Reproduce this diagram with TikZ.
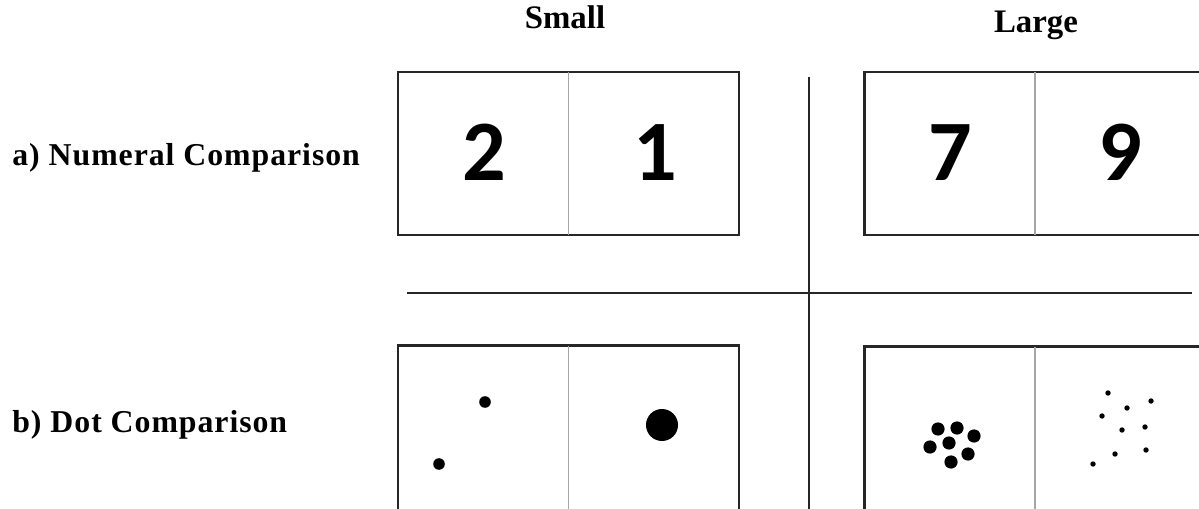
\documentclass[tikz,border=0pt]{standalone}
\usepackage{fontspec}
\setmainfont{Liberation Serif}
\newfontfamily\digitfont{Carlito}
\newfontfamily\rowfont{Liberation Serif}[LetterSpace=3]
\usetikzlibrary{positioning}

\begin{document}
\begin{tikzpicture}[
    x=0.02cm, y=-0.02cm,
    panel/.style={
        draw=black!85,
        line width=1.3pt,
        minimum width=6.82cm,
        minimum height=3.26cm,
        inner sep=0pt,
        outer sep=0pt
    },
    tallpanel/.style={
        panel,
        minimum height=5.1cm
    },
    digit/.style={
        anchor=base,
        inner sep=0pt,
        font=\digitfont\bfseries\fontsize{49pt}{50pt}\selectfont
    },
    heading/.style={
        anchor=base,
        inner sep=0pt,
        font=\bfseries\fontsize{18.7pt}{20pt}\selectfont
    },
    rowlabel/.style={
        anchor=base west,
        inner sep=0pt,
        font=\rowfont\bfseries\fontsize{18.1pt}{20pt}\selectfont
    },
    divider/.style={draw=black!35, line width=0.8pt},
    cross/.style={draw=black!85, line width=1.2pt},
    bigdot/.style={fill=black}
]
\useasboundingbox (0,0) rectangle (1199,509);
\clip (0,0) rectangle (1199,509);

% --- Column headings ---
\node[heading] (small) at (565, 29) {Small};
\node[heading] (large) at (1036, 33) {Large};

% --- Row labels ---
\node[rowlabel] (numlabel) at (12, 166) {a) Numeral Comparison};
\node[rowlabel] (dotlabel) at (12, 432) {b) Dot Comparison};

% --- Panels ---
\node[panel]     (numsmall) at (568.5, 153.5) {};
\node[panel]     (numlarge) at (1035, 153.5) {};
\node[tallpanel] (dotsmall) at (568.5, 473) {};
\node[tallpanel] (dotlarge) at (1035, 474) {};

% --- Dividers ---
\foreach \p in {numsmall, numlarge, dotsmall, dotlarge}
    \draw[divider] (\p.north) -- (\p.south);

% --- Cross between the panels ---
\coordinate (vtop) at (809, 77);
\coordinate (vbot) at (809, 509);
\coordinate (hleft) at (407, 293);
\coordinate (hright) at (1192, 293);
\draw[cross] (vtop) -- (vbot);
\draw[cross] (hleft) -- (hright);

% --- Numerals ---
\node[digit] (two)   at (484, 181) {2};
\node[digit] (one)   at (655, 181) {1};
\node[digit] (seven) at (950, 181) {7};
\node[digit] (nine)  at (1120, 181) {9};

% --- Dots, small ---
\foreach \x/\y in {485/402, 439/464}
    \fill[bigdot] (\x,\y) circle (5.8);
\fill[bigdot] (662, 425) circle (16);

% --- Dots, large ---
\foreach \x/\y in {938/429, 957/428, 974/436, 930/447, 949/443, 968/454, 951/462}
    \fill[bigdot] (\x,\y) circle (6.6);
\foreach \x/\y in {1108/393, 1151/401, 1127/408, 1102/416, 1145/427,
                   1122/430, 1146/450, 1115/454, 1093/464}
    \fill[bigdot] (\x,\y) circle (2.7);

\end{tikzpicture}
\end{document}
